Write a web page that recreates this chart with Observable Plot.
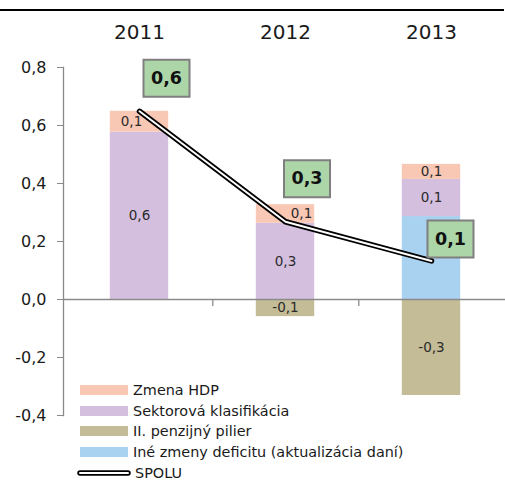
<!DOCTYPE html>
<html>
<head>
<meta charset="utf-8">
<script src="https://cdn.jsdelivr.net/npm/d3@7"></script>
<script src="https://cdn.jsdelivr.net/npm/@observablehq/plot@0.6"></script>
<style>
  body { margin: 0; background: #fff; font-family: "DejaVu Sans", sans-serif; }
  #wrap { position: relative; width: 505px; height: 483px; }
  #topline { position: absolute; left: 0; top: 9px; width: 504px; height: 2px; background: #000; }
  #legend { position: absolute; left: 77px; top: 380px; font-size: 14.4px; color: #1a1a1a; }
  .row { position: absolute; left: 0; height: 20px; display: flex; align-items: center; white-space: nowrap; }
  .sw { width: 48px; height: 10px; margin-left: 3px; margin-right: 5px; }
</style>
</head>
<body>
<div id="wrap">
  <div id="chart"></div>
  <div id="topline"></div>
  <div id="legend"></div>
</div>
<script>
// ---- data ----
const years = ["2011", "2012", "2013"];
const seriesNames = ["Zmena HDP", "Sektorová klasifikácia", "II. penzijný pilier", "Iné zmeny deficitu (aktualizácia daní)"];
const zmenaHDP = [0.072, 0.064, 0.052];
const sektorova = [0.577, 0.263, 0.128];
const pilier = [0, -0.059, -0.331];
const ineZmeny = [0, 0, 0.286];
const spolu = [0.649, 0.268, 0.133];
const spoluName = "SPOLU";
const yTicks = [-0.4, -0.2, 0, 0.2, 0.4, 0.6, 0.8];

// ---- styles ----
const colors = {
  "Zmena HDP": "#f9c8b5",
  "Sektorová klasifikácia": "#d4bfdf",
  "II. penzijný pilier": "#c4bc96",
  "Iné zmeny deficitu (aktualizácia daní)": "#a9d1f0"
};
const gray = "#8a8a8a";
const fmt = d => d.toFixed(1).replace(".", ",");

// long table, stacking order bottom→top: Iné, Sektorová, HDP ; negatives: pilier
const valuesBySeries = {
  "Zmena HDP": zmenaHDP,
  "Sektorová klasifikácia": sektorova,
  "II. penzijný pilier": pilier,
  "Iné zmeny deficitu (aktualizácia daní)": ineZmeny
};
const stackOrder = [seriesNames[3], seriesNames[1], seriesNames[0], seriesNames[2]];
const long = [];
for (const s of stackOrder) years.forEach((y, i) => long.push({year: y, series: s, value: valuesBySeries[s][i]}));
const total = years.map((y, i) => ({year: y, value: spolu[i]}));

// label offsets (style only)
const specialLabels = {"2011|Zmena HDP": -8, "2012|Zmena HDP": 16};
const boxOffsets = [[27, -33], [21.5, -43], [19, -22]];
const boxSymbol = {draw(ctx) { ctx.rect(-23, -18.5, 46, 37); }};

const labelText = (pred) => d => (d.value === 0 || d.series === seriesNames[3] || !pred(d)) ? null : fmt(d.value);
const key = d => d.year + "|" + d.series;

const marks = [
  Plot.barY(long, Plot.stackY({x: "year", y: "value", z: "series", fill: d => colors[d.series], insetLeft: 43.8, insetRight: 43.8})),
  Plot.ruleY([0], {stroke: gray, strokeWidth: 1.3}),
  Plot.ruleX(years.slice(0, 2), {x: d => d, dx: 73.3, y1: 0, y2: -0.024, stroke: gray, strokeWidth: 1.3}),
  Plot.frame({anchor: "left", stroke: gray, strokeWidth: 1.3}),
  Plot.axisY(yTicks, {tickSize: 6, tickPadding: 11, fontSize: 16, tickFormat: fmt, stroke: gray, fill: "#1a1a1a", label: null}),
  Plot.axisX({anchor: "top", tickSize: 0, tickPadding: 29, fontSize: 20, fill: "#1a1a1a", label: null}),
  Plot.text(long, Plot.stackY({x: "year", y: "value", z: "series", text: labelText(d => !(key(d) in specialLabels)), fontSize: 13.5, fill: "#2a2a2a"})),
  ...Object.entries(specialLabels).map(([k, dx]) =>
    Plot.text(long, Plot.stackY({x: "year", y: "value", z: "series", text: labelText(d => key(d) === k), dx, fontSize: 13.5, fill: "#2a2a2a"}))),
  Plot.line(total, {x: "year", y: "value", stroke: "#000", strokeWidth: 5.5, strokeLinecap: "round", strokeLinejoin: "round"}),
  Plot.line(total, {x: "year", y: "value", stroke: "#fff", strokeWidth: 2, strokeLinecap: "round", strokeLinejoin: "round"}),
  ...total.flatMap((d, i) => [
    Plot.dot([d], {x: "year", y: "value", dx: boxOffsets[i][0], dy: boxOffsets[i][1], symbol: boxSymbol, r: 10, fill: "#acd5a8", stroke: "#7f7f7f", strokeWidth: 2}),
    Plot.text([d], {x: "year", y: "value", dx: boxOffsets[i][0], dy: boxOffsets[i][1], text: t => fmt(t.value), fontSize: 17.5, fontWeight: "bold", fill: "#111"})
  ])
];

const chart = Plot.plot({
  width: 505,
  height: 483,
  marginLeft: 63,
  marginRight: 0,
  marginTop: 67,
  marginBottom: 68,
  style: {fontFamily: "DejaVu Sans", background: "transparent", overflow: "visible"},
  x: {type: "band", domain: years, range: [65, 505], padding: 0, label: null},
  y: {domain: [-0.4, 0.8], label: null},
  marks
});
document.getElementById("chart").appendChild(chart);

// legend
const legend = document.getElementById("legend");
const legendRows = [...seriesNames, spoluName];
legendRows.forEach((name, i) => {
  const row = document.createElement("div");
  row.className = "row";
  row.style.top = (i * 20.7) + "px";
  if (name === spoluName) {
    row.innerHTML = `<svg width="56" height="10" style="margin-right:2px"><line x1="3" y1="5" x2="51" y2="5" stroke="#000" stroke-width="5.5" stroke-linecap="round"/><line x1="3" y1="5" x2="51" y2="5" stroke="#fff" stroke-width="2" stroke-linecap="round"/></svg><span></span>`;
  } else {
    row.innerHTML = `<div class="sw" style="background:${colors[name]}"></div><span></span>`;
  }
  row.querySelector("span").textContent = name;
  legend.appendChild(row);
});
</script>
</body>
</html>
